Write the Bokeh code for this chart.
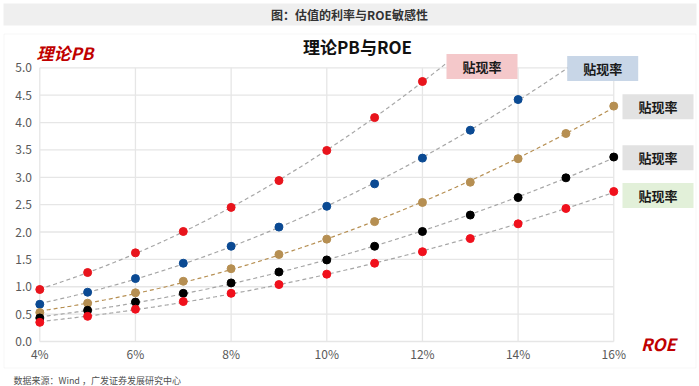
import numpy as np
from bokeh.plotting import figure
from bokeh.models import Label, BoxAnnotation, FixedTicker, Range1d
from bokeh.embed import file_html
from bokeh.resources import INLINE

# ---------------- data ----------------
roe = [4, 5, 6, 7, 8, 9, 10, 11, 12, 13, 14, 15, 16]
pb_s1 = [0.95, 1.26, 1.62, 2.01, 2.45, 2.94, 3.49, 4.09, 4.75]
pb_s2 = [0.68, 0.90, 1.15, 1.43, 1.74, 2.09, 2.47, 2.88, 3.35, 3.86, 4.42]
pb_s3 = [0.53, 0.70, 0.89, 1.10, 1.33, 1.59, 1.87, 2.19, 2.54, 2.91, 3.34, 3.80, 4.30]
pb_s4 = [0.43, 0.57, 0.72, 0.88, 1.07, 1.27, 1.49, 1.74, 2.01, 2.31, 2.63, 2.99, 3.37]
pb_s5 = [0.35, 0.46, 0.59, 0.73, 0.88, 1.04, 1.23, 1.43, 1.64, 1.88, 2.15, 2.43, 2.74]
series_labels = ["贴现率", "贴现率", "贴现率", "贴现率", "贴现率"]

x_ticks = [4, 6, 8, 10, 12, 14, 16]
x_tick_labels = ["4%", "6%", "8%", "10%", "12%", "14%", "16%"]
y_ticks = [0.0, 0.5, 1.0, 1.5, 2.0, 2.5, 3.0, 3.5, 4.0, 4.5, 5.0]
y_tick_labels = ["0.0", "0.5", "1.0", "1.5", "2.0", "2.5", "3.0", "3.5", "4.0", "4.5", "5.0"]

header_text = "图：估值的利率与ROE敏感性"
title_text = "理论PB与ROE"
y_title = "理论PB"
x_title = "ROE"
footer_text = "数据来源：Wind ，广发证券发展研究中心"

# ---------------- geometry (page pixels -> data) ----------------
PX4, SX = 39.3, 47.83      # page x of 4%, px per 1%
PY0, SY = 341.0, 54.74     # page y of 0.0, px per 1.0
FIG_W, FIG_H = 699, 386
LINE_TOP = 5.13            # trend lines end here (plot-area top)


def dx(px):
    return 4 + (px - PX4) / SX


def dy(py):
    return (PY0 - py) / SY


p = figure(width=FIG_W, height=FIG_H,
           x_range=Range1d(dx(0), dx(FIG_W)),
           y_range=Range1d(dy(FIG_H), dy(0)),
           output_backend="svg", toolbar_location=None, title=None,
           min_border=0, min_border_left=0, min_border_right=0,
           min_border_top=0, min_border_bottom=0)
p.outline_line_color = None
p.background_fill_color = "white"
p.border_fill_color = "white"
p.xgrid.grid_line_color = None
p.ygrid.grid_line_color = None

TICK_FONT = "Noto Sans CJK SC"
for ax in (p.xaxis[0], p.yaxis[0]):
    ax.axis_line_color = None
    ax.major_tick_line_color = None
    ax.minor_tick_line_color = None
    ax.major_tick_out = 0
    ax.major_tick_in = 0
    ax.major_label_text_color = "#595959"
    ax.major_label_text_font = TICK_FONT
    ax.major_label_text_font_size = "12px"
p.xaxis.ticker = FixedTicker(ticks=x_ticks)
p.xaxis.major_label_overrides = {t: l for t, l in zip(x_ticks, x_tick_labels)}
p.xaxis.fixed_location = 0.0
p.xaxis.major_label_standoff = 3
p.yaxis.ticker = FixedTicker(ticks=y_ticks)
p.yaxis.major_label_overrides = {t: l for t, l in zip(y_ticks, y_tick_labels)}
p.yaxis.fixed_location = dx(33.5)
p.yaxis.major_label_standoff = 2

# header band and panel outline
p.add_layout(BoxAnnotation(left=dx(3), right=dx(696), top=dy(3), bottom=dy(25),
                           fill_color="#efefef", fill_alpha=1, line_color=None,
                           level="underlay"))
p.add_layout(BoxAnnotation(left=dx(3.5), right=dx(695.5), top=dy(33.5), bottom=dy(367.5),
                           fill_alpha=0, line_color="#e6e6e6", line_width=1,
                           level="underlay"))

# grid lines (limited to data extent)
GRID = "#e6e6e6"
p.segment(x0=[x_ticks[0]] * len(y_ticks), x1=[x_ticks[-1]] * len(y_ticks),
          y0=y_ticks, y1=y_ticks, line_color=GRID, line_width=1.3)
p.segment(x0=x_ticks, x1=x_ticks, y0=[y_ticks[0]] * len(x_ticks),
          y1=[y_ticks[-1]] * len(x_ticks), line_color=GRID, line_width=1.3)

series = [
    (pb_s1, "#e8141c", "#a6a6a6"),
    (pb_s2, "#0b4a93", "#a6a6a6"),
    (pb_s3, "#b68f52", "#b68f52"),
    (pb_s4, "#000000", "#a6a6a6"),
    (pb_s5, "#f0101c", "#a6a6a6"),
]
xs_fit = np.linspace(roe[0], roe[-1], 481)
for vals, col, lcol in series:
    xx = roe[:len(vals)]
    coef = np.polyfit(xx, vals, 2)
    yy = np.polyval(coef, xs_fit)
    keep = yy <= LINE_TOP
    p.line(xs_fit[keep], yy[keep], line_color=lcol, line_width=1.2,
           line_dash="4 3")
for vals, col, lcol in series:
    p.scatter(roe[:len(vals)], vals, size=8, fill_color=col, line_color=col)

p.add_layout(Label(x=dx(349), y=dy(14), text=header_text, text_align="center",
                   text_baseline="middle", text_font="Noto Sans CJK SC",
                   text_font_style="bold", text_font_size="12px", text_color="#333333"))
p.add_layout(Label(x=dx(357), y=dy(46), text=title_text, text_align="center",
                   text_baseline="middle", text_font="Noto Sans CJK SC",
                   text_font_style="bold", text_font_size="17px", text_color="#111111"))
p.add_layout(Label(x=dx(36), y=dy(52), text=y_title, text_align="left",
                   text_baseline="middle", text_font="Noto Sans CJK SC",
                   text_font_style="bold italic", text_font_size="17px", text_color="#c00000"))
p.add_layout(Label(x=dx(658), y=dy(343), text=x_title, text_align="center",
                   text_baseline="middle", text_font="Noto Sans CJK SC",
                   text_font_style="bold italic", text_font_size="17px", text_color="#c00000"))
p.add_layout(Label(x=dx(13), y=dy(379.5), text=footer_text, text_align="left",
                   text_baseline="middle", text_font="Noto Sans CJK SC",
                   text_font_size="9px", text_color="#505050"))

box_specs = [
    (481.5, 66.0, "#f4c8ca"),
    (602.2, 67.9, "#c8d6e7"),
    (657.5, 106.3, "#e2e2e2"),
    (657.5, 157.2, "#e2e2e2"),
    (657.5, 195.0, "#e2f0d9"),
]
for (bx, by, bc), lab in zip(box_specs, series_labels):
    p.add_layout(Label(x=dx(bx), y=dy(by), text=lab, text_align="center",
                       text_baseline="middle", text_font="Noto Sans CJK SC",
                       text_font_style="bold", text_font_size="13px", text_color="#1a1a1a",
                       background_fill_color=bc, background_fill_alpha=1,
                       padding=dict(left=16, right=16, top=3, bottom=3)))

open("out.html", "w").write(file_html(p, INLINE))
